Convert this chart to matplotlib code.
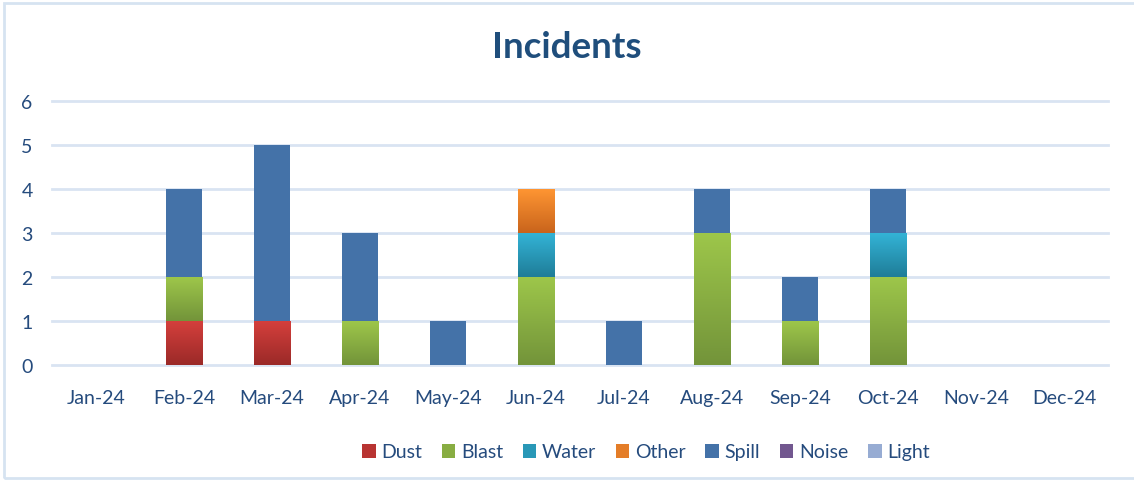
import matplotlib
matplotlib.use('Agg')
import matplotlib.pyplot as plt
import numpy as np
from matplotlib.patches import Rectangle
from matplotlib.colors import LinearSegmentedColormap

plt.rcParams['font.family'] = ['Lato', 'DejaVu Sans']

months = ['Jan-24', 'Feb-24', 'Mar-24', 'Apr-24', 'May-24', 'Jun-24',
          'Jul-24', 'Aug-24', 'Sep-24', 'Oct-24', 'Nov-24', 'Dec-24']
dust = [0, 1, 1, 0, 0, 0, 0, 0, 0, 0, 0, 0]
blast = [0, 1, 0, 1, 0, 2, 0, 3, 1, 2, 0, 0]
water = [0, 0, 0, 0, 0, 1, 0, 0, 0, 1, 0, 0]
other = [0, 0, 0, 0, 0, 1, 0, 0, 0, 0, 0, 0]
spill = [0, 2, 4, 2, 1, 0, 1, 1, 1, 1, 0, 0]
noise = [0] * 12
light = [0] * 12

series = [('Dust', dust), ('Blast', blast), ('Water', water), ('Other', other),
          ('Spill', spill), ('Noise', noise), ('Light', light)]
# (top colour, bottom colour) - bars in the original have a vertical gradient
colours = {
    'Dust': ('#d43f3c', '#9b2a28'),
    'Blast': ('#9dc64a', '#73943a'),
    'Water': ('#33b3d6', '#1f7d98'),
    'Other': ('#ff9633', '#c9641c'),
    'Spill': ('#4472a8', '#4472a8'),
    'Noise': ('#72578f', '#72578f'),
    'Light': ('#97acd3', '#97acd3'),
}
text_col = '#254b7d'

fig = plt.figure(figsize=(11.34, 4.81), dpi=100)
ax = fig.add_axes([52 / 1134, 1 - 366 / 481, 1056 / 1134, 264 / 481])

x = np.arange(len(months))
bottom = np.zeros(len(months))
for name, vals in series:
    top, bot = colours[name]
    mid = top if top == bot else matplotlib.colors.to_hex(
        (np.array(matplotlib.colors.to_rgb(top)) + np.array(matplotlib.colors.to_rgb(bot))) / 2)
    bars = ax.bar(x, vals, 0.41, bottom=bottom, color=mid, label=name, zorder=3)
    if top != bot:
        cmap = LinearSegmentedColormap.from_list(name, [bot, top])
        grad = np.linspace(0, 1, 64).reshape(-1, 1)
        for b in bars:
            if b.get_height() == 0:
                continue
            x0, y0 = b.get_x(), b.get_y()
            im = ax.imshow(grad, cmap=cmap, aspect='auto', origin='lower',
                           extent=[x0, x0 + b.get_width(), y0, y0 + b.get_height()],
                           zorder=4)
            im.set_clip_path(b)
    bottom += np.array(vals)

ax.set_xlim(-0.5, 11.5)
ax.set_ylim(0, 6)
ax.set_yticks(range(7))
ax.set_xticks(x)
ax.set_xticklabels(months)
ax.grid(axis='y', color='#d9e4f2', linewidth=2, zorder=0)
for gl in ax.get_ygridlines():
    gl.set_clip_on(False)
for s in ax.spines.values():
    s.set_visible(False)
ax.tick_params(length=0, labelsize=14, labelcolor=text_col)
ax.tick_params(axis='x', pad=17)
ax.tick_params(axis='y', pad=14)

fig.text(567 / 1134, 1 - 47 / 481, 'Incidents', ha='center', va='center',
         fontsize=26.5, fontweight='bold', color='#1f4e7c')

fig.legend(loc='center', bbox_to_anchor=(646 / 1134, 1 - 453 / 481), ncol=7,
           frameon=False, fontsize=14, labelcolor=text_col, handlelength=0.7,
           handleheight=0.7, handletextpad=0.3, columnspacing=1.0)

# light border around the chart area (left, top, bottom; right edge is off-image)
fig.patches.append(Rectangle((3.5 / 1134, 1 - 479 / 481), 1.1, 475.5 / 481,
                             transform=fig.transFigure, fill=False,
                             edgecolor='#d6e3f1', linewidth=2))

fig.savefig('out.png', dpi=100)
